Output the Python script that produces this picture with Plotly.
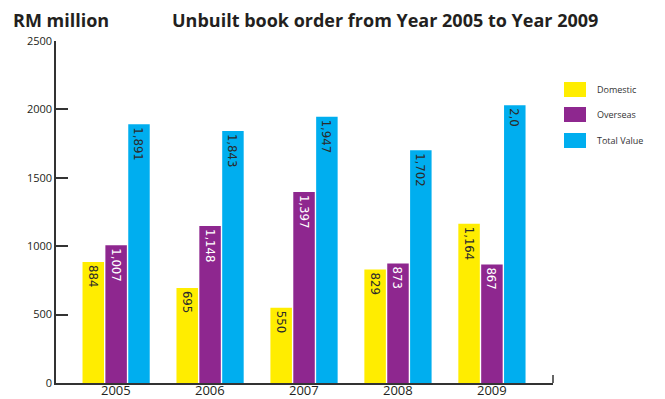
import plotly.graph_objects as go

years = ["2005", "2006", "2007", "2008", "2009"]
domestic = [884, 695, 550, 829, 1164]
overseas = [1007, 1148, 1397, 873, 867]
total = [1891, 1843, 1947, 1702, 2031]
total_text = ["1,891", "1,843", "1,947", "1,702", "2,0"]

series_names = ["Domestic", "Overseas", "Total Value"]
colors = ["#FFED00", "#8E278F", "#00AEEF"]
label_colors = ["#2b2b2b", "#ffffff", "#2b2b2b"]
y_ticks = [0, 500, 1000, 1500, 2000, 2500]

LABEL_FONT = "Liberation Sans Narrow, Arial Narrow, DejaVu Sans Condensed, sans-serif"
MAIN_FONT = "Open Sans, DejaVu Sans, sans-serif"

fig = go.Figure()
texts = [
    [f"{v:,}" for v in domestic],
    [f"{v:,}" for v in overseas],
    total_text,
]
for name, vals, color, txt, tcol in zip(series_names, [domestic, overseas, total],
                                         colors, texts, label_colors):
    fig.add_trace(go.Bar(
        x=years, y=vals, name=name, marker=dict(color=color, line=dict(width=0)),
        text=txt, textposition="inside", insidetextanchor="end", textangle=90,
        constraintext="none",
        textfont=dict(family=LABEL_FONT, size=13, color=tcol),
        showlegend=False,
    ))

# year labels sit tight under the baseline (category index on the x axis)
for i, yr in enumerate(years):
    fig.add_annotation(xref="x", yref="paper", x=i, y=0, text=yr, showarrow=False,
                       yanchor="middle", yshift=-7, borderpad=0,
                       font=dict(family=MAIN_FONT, size=13, color="#231f20"))

# legend swatches and labels
legend_y = [89.5, 114.5, 140.5]
for name, color, yc in zip(series_names, colors, legend_y):
    fig.add_shape(type="rect", xref="paper", yref="paper",
                  x0=(564 - 56) / 497, x1=(586 - 56) / 497,
                  y0=(383 - yc - 7.5) / 342, y1=(383 - yc + 7.5) / 342,
                  fillcolor=color, line=dict(width=0))
    fig.add_annotation(xref="paper", yref="paper", x=(595 - 56) / 497,
                       y=(383 - yc) / 342, text=name, showarrow=False,
                       xanchor="left", yanchor="middle",
                       font=dict(family=MAIN_FONT, size=9, color="#333333"))

# small upright tick at the right end of the baseline
fig.add_shape(type="line", xref="paper", yref="paper", x0=1, x1=1,
              y0=0, y1=8 / 342, line=dict(color="#333333", width=1.5))

fig.add_annotation(xref="paper", yref="paper", x=-45 / 497, y=(383 - 20) / 342,
                   text="<b>RM million</b>", showarrow=False, xanchor="left",
                   yanchor="middle", font=dict(family=MAIN_FONT, size=18, color="#231f20"))
fig.add_annotation(xref="paper", yref="paper", x=(170 - 56) / 497, y=(383 - 20) / 342,
                   text="<b>Unbuilt book order from Year 2005 to Year 2009</b>",
                   showarrow=False, xanchor="left", yanchor="middle",
                   font=dict(family=MAIN_FONT, size=18, color="#231f20"))

fig.update_layout(
    width=665, height=399,
    margin=dict(l=56, r=112, t=41, b=16),
    paper_bgcolor="white", plot_bgcolor="white",
    barmode="group", bargap=0.27, bargroupgap=0.06,
    font=dict(family=MAIN_FONT, color="#333333"),
    xaxis=dict(type="category", range=[-0.64, 4.65], showline=True, linecolor="#333333",
               linewidth=1.5, ticks="", showticklabels=False, showgrid=False,
               automargin=False),
    yaxis=dict(range=[0, 2500], tickvals=y_ticks, showline=True, linecolor="#333333",
               linewidth=1.5, ticks="inside", ticklen=12, tickcolor="#333333",
               tickwidth=1.5, showgrid=False, zeroline=False, automargin=False,
               tickfont=dict(size=11, color="#231f20")),
)

fig.write_html("out.html")
